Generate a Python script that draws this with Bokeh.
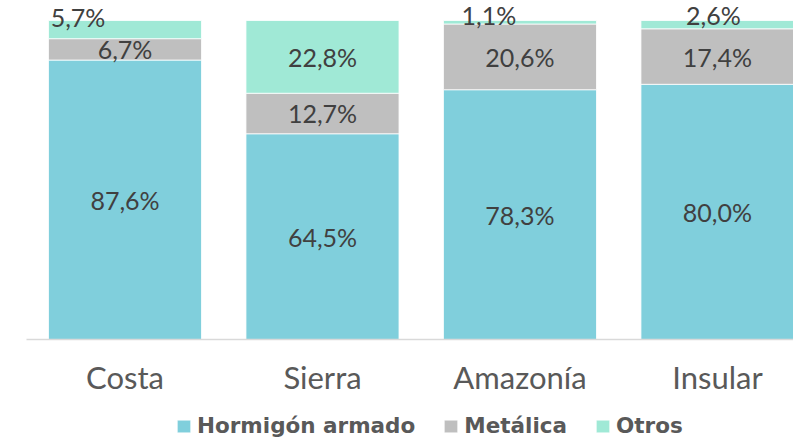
from bokeh.plotting import figure
from bokeh.models import (ColumnDataSource, Range1d, FixedTicker, LabelSet,
                          Legend, LegendItem)
from bokeh.core.properties import value
from bokeh.embed import file_html
from bokeh.resources import INLINE

# ---- data ----
categories = ["Costa", "Sierra", "Amazonía", "Insular"]
series_names = ["Hormigón armado", "Metálica", "Otros"]
hormigon = [87.6, 64.5, 78.3, 80.0]
metalica = [6.7, 12.7, 20.6, 17.4]
otros = [5.7, 22.8, 1.1, 2.6]

# ---- style ----
colors = ["#80CFDC", "#BFBFBF", "#A0E9D6"]
label_font = "Lato"
# screen offsets (px) for labels of the thin top segments
small_dx = {"Costa": -47, "Sierra": 0, "Amazonía": -31, "Insular": -4}
small_dy = {"Costa": 13, "Sierra": 0, "Amazonía": 7, "Insular": 10}

# frame covers the whole canvas; axis is drawn at value 0
p = figure(width=793, height=438, output_backend="svg",
           toolbar_location=None, x_range=Range1d(-0.6304, 3.385),
           y_range=Range1d(-31.03, 106.27), min_border_left=0,
           min_border_right=0, min_border_top=0, min_border_bottom=0)
p.outline_line_color = None
p.grid.visible = False
p.yaxis.visible = False
p.background_fill_color = "white"
p.border_fill_color = "white"

xs = list(range(len(categories)))
bottom = [0.0] * len(categories)
renderers = []
lab_x, lab_y, lab_t, lab_dx, lab_dy = [], [], [], [], []
for name, vals, col in zip(series_names, [hormigon, metalica, otros], colors):
    top = [b + v for b, v in zip(bottom, vals)]
    src = ColumnDataSource(dict(x=xs, bottom=bottom, top=top))
    r = p.vbar(x="x", width=0.775, bottom="bottom", top="top", source=src,
               fill_color=col, line_color="white", line_width=0.8)
    renderers.append(r)
    for i, (b, v) in enumerate(zip(bottom, vals)):
        lab_x.append(xs[i])
        lab_y.append(b + v / 2)
        lab_t.append(f"{v:.1f}%".replace(".", ","))
        if name == "Otros":
            lab_dx.append(small_dx[categories[i]])
            lab_dy.append(small_dy[categories[i]])
        else:
            lab_dx.append(0)
            lab_dy.append(0)
    bottom = top

lsrc = ColumnDataSource(dict(x=lab_x, y=lab_y, t=lab_t, dx=lab_dx, dy=lab_dy))
labels = LabelSet(x="x", y="y", text="t", x_offset="dx", y_offset="dy",
                  source=lsrc, text_align="center", text_baseline="middle",
                  text_font=value(label_font), text_font_size="25px",
                  text_color="#404040")
p.add_layout(labels)

ax = p.xaxis[0]
ax.fixed_location = 0
ax.bounds = (-0.4987, 3.385)
ax.ticker = FixedTicker(ticks=xs)
ax.major_label_overrides = {i: c for i, c in zip(xs, categories)}
ax.major_tick_line_color = None
ax.minor_tick_line_color = None
ax.axis_line_color = "#D9D9D9"
ax.axis_line_width = 1.5
ax.major_label_text_font = label_font
ax.major_label_text_font_size = "31px"
ax.major_label_text_color = "#595959"
ax.major_label_standoff = 12

legend = Legend(items=[LegendItem(label=n, renderers=[r])
                       for n, r in zip(series_names, renderers)],
                orientation="horizontal", location=(175, 0),
                glyph_width=17, glyph_height=16, label_height=16,
                label_standoff=5, spacing=27,
                padding=0, margin=0, border_line_color=None,
                background_fill_alpha=0,
                label_text_font="DejaVu Sans", label_text_font_style="bold",
                label_text_font_size="21.5px", label_text_color="#595959")
p.add_layout(legend, "center")

open("out.html", "w").write(file_html(p, INLINE))
